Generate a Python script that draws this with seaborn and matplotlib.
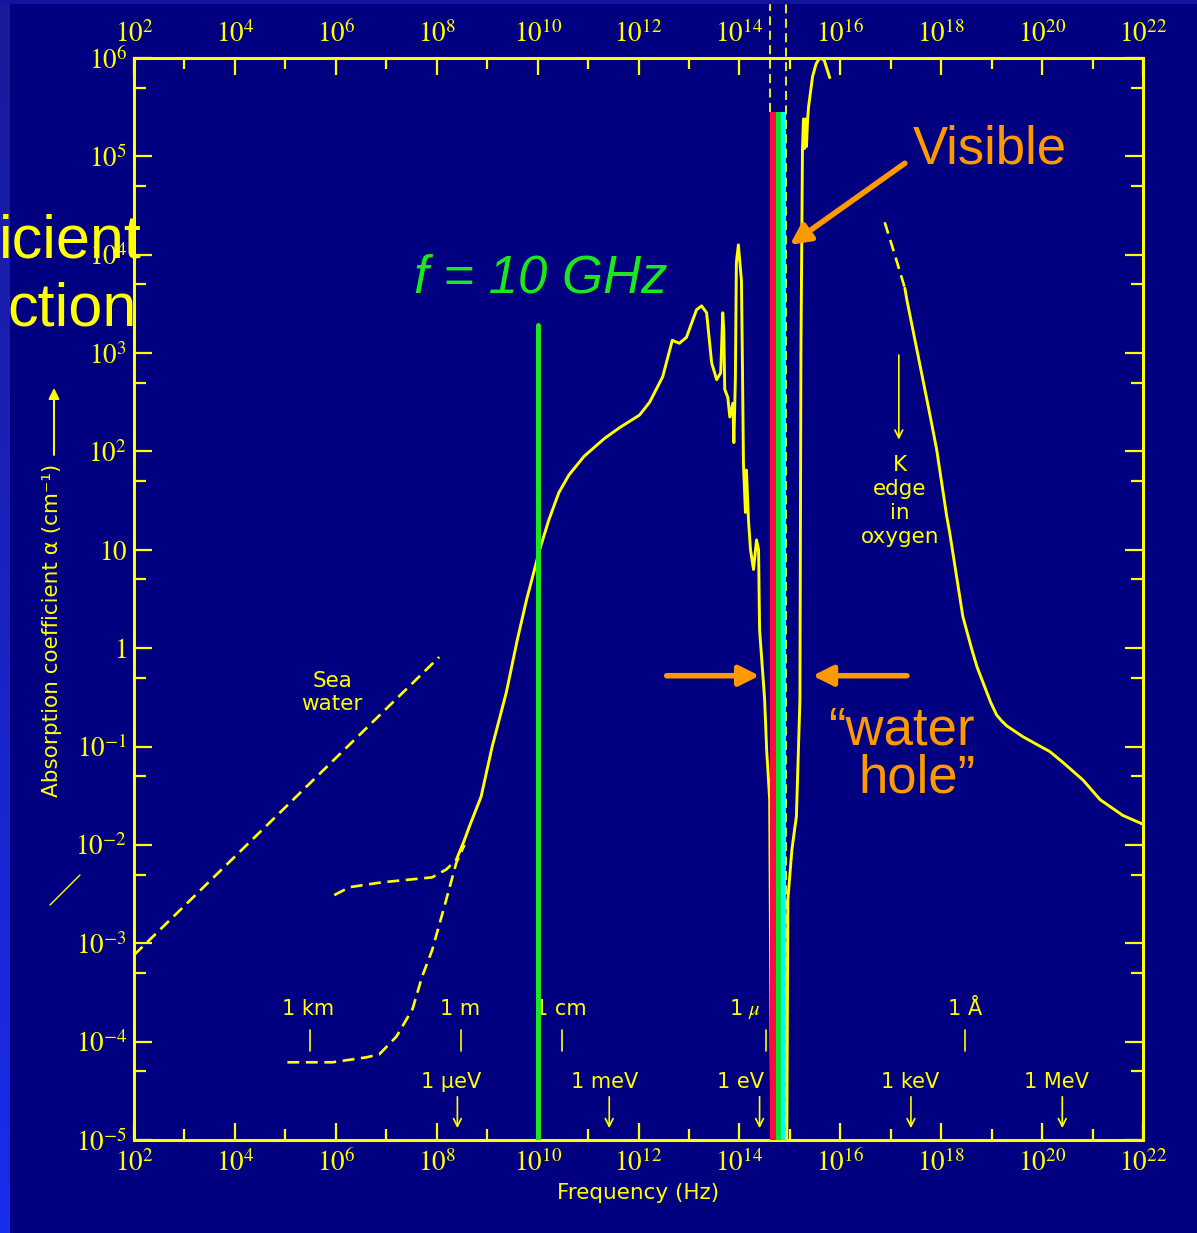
import numpy as np
import pandas as pd
import seaborn as sns
import matplotlib.pyplot as plt
from matplotlib.lines import Line2D
from matplotlib.patches import Rectangle

# ---- data (log10 values) ----
# main water absorption curve, radio -> near IR
main_logf = [8.39, 8.55, 8.65, 8.88, 9.10, 9.38, 9.60, 9.78, 10.04, 10.22, 10.42, 10.62,
             10.92, 11.32, 11.62, 12.02, 12.22, 12.48, 12.67, 12.81, 12.95, 13.15, 13.25,
             13.35, 13.45, 13.55, 13.63, 13.67, 13.69, 13.71, 13.77, 13.81, 13.87, 13.89,
             13.92, 13.94, 13.98, 14.04, 14.06, 14.08, 14.12, 14.14, 14.18, 14.22, 14.28,
             14.34, 14.38, 14.40, 14.50, 14.54, 14.60, 14.64]
main_loga = [-2.15, -1.95, -1.81, -1.51, -1.00, -0.45, 0.09, 0.49, 1.00, 1.30, 1.58, 1.76,
             1.95, 2.13, 2.24, 2.37, 2.50, 2.76, 3.13, 3.10, 3.16, 3.44, 3.48,
             3.41, 2.90, 2.73, 2.80, 3.41, 3.24, 2.63, 2.55, 2.35, 2.49, 2.09,
             2.73, 3.92, 4.10, 3.74, 2.90, 1.88, 1.38, 1.81, 1.30, 1.00, 0.80,
             1.10, 1.00, 0.19, -0.52, -1.03, -1.54, -5.00]

# UV side of the water hole
uv_logf = [14.94, 14.96, 15.04, 15.13, 15.20, 15.22, 15.25, 15.27, 15.29, 15.31, 15.33,
           15.35, 15.37, 15.45, 15.52, 15.59, 15.68, 15.79]
uv_loga = [-5.00, -2.56, -2.05, -1.71, -0.52, 3.03, 5.07, 5.38, 5.08, 5.38, 5.10,
           5.36, 5.50, 5.81, 5.94, 6.00, 5.98, 5.80]

# x-ray side
xr_dash_logf = [16.88, 17.05, 17.28]
xr_dash_loga = [4.33, 4.05, 3.66]
xr_logf = [17.28, 17.32, 17.52, 17.77, 17.91, 18.11, 18.17, 18.43, 18.60, 18.71, 18.83,
           18.98, 19.10, 19.20, 19.30, 19.62, 19.90, 20.15, 20.41, 20.81, 21.15, 21.60, 22.00]
xr_loga = [3.66, 3.54, 3.03, 2.39, 2.02, 1.34, 1.17, 0.32, 0.00, -0.19, -0.35,
           -0.55, -0.68, -0.74, -0.79, -0.90, -0.98, -1.05, -1.16, -1.34, -1.54, -1.70, -1.79]

# sea water line and dashed low-frequency branches
sea_logf = [2.00, 8.05]
sea_loga = [-3.12, -0.09]
low_logf = [5.04, 5.93, 6.60, 6.86, 7.20, 7.52, 7.71, 7.91, 8.15, 8.39, 8.55]
low_loga = [-4.21, -4.21, -4.16, -4.13, -3.95, -3.67, -3.34, -3.07, -2.63, -2.18, -2.00]
mid_logf = [5.97, 6.27, 6.92, 7.91, 8.19, 8.39]
mid_loga = [-2.51, -2.43, -2.38, -2.33, -2.25, -2.15]

# visible band edges
vis_left = [14.60, 14.72, 14.83]
vis_right = [14.72, 14.83, 14.93]
vis_top = 5.45

f_marker = 1e10
f_top = 3.29

wl_labels = ['1 km', '1 m', '1 cm', '1 $\\mu$', '1 Å']
wl_tick_logf = [5.48, 8.48, 10.48, 14.52, 18.48]
wl_text_logf = [5.46, 8.47, 10.47, 14.12, 18.47]
ev_labels = ['1 μeV', '1 meV', '1 eV', '1 keV', '1 MeV']
ev_arrow_logf = [8.41, 11.42, 14.40, 17.40, 20.40]
ev_text_logf = [8.29, 11.32, 14.03, 17.38, 20.29]

xtick_exp = list(range(2, 23, 2))
ytick_exp = list(range(-5, 7))
ytick_labels = ['$10^{-5}$', '$10^{-4}$', '$10^{-3}$', '$10^{-2}$', '$10^{-1}$', '$1$', '$10$',
                '$10^{2}$', '$10^{3}$', '$10^{4}$', '$10^{5}$', '$10^{6}$']

# ---- style ----
navy = '#000080'
yellow = '#ffff00'
orange = '#ff9900'
green = '#1ee61e'
vis_colors = ['#ff0a3c', '#00e632', '#00ffff']

sns.set_theme(style='ticks')
plt.rcParams['font.family'] = ['DejaVu Sans']
plt.rcParams['mathtext.fontset'] = 'stix'

W, H = 1197, 1233
fig = plt.figure(figsize=(W / 100, H / 100), dpi=100)
fig.patch.set_facecolor(navy)

# left gradient strip and thin top strip
strip = fig.add_axes([0, 0, 10 / W, 1])
grad = np.linspace(0, 1, 256).reshape(-1, 1)
cols = np.zeros((256, 1, 3))
cols[:, 0, 0] = 0.10
cols[:, 0, 1] = 0.10 + 0.08 * grad[:, 0]
cols[:, 0, 2] = 0.60 + 0.33 * grad[:, 0]
strip.imshow(cols, aspect='auto', origin='upper')
strip.axis('off')
fig.patches.append(Rectangle((0, 1 - 3 / H), 1, 3 / H, transform=fig.transFigure,
                             color='#14149a', zorder=0))

ax = fig.add_axes([134 / W, 1 - 1140 / H, (1143 - 134) / W, (1140 - 58) / H])
ax.set_facecolor(navy)
ax.set_xscale('log')
ax.set_yscale('log')
ax.set_xlim(1e2, 1e22)
ax.set_ylim(1e-5, 1e6)


def p(v):
    return 10 ** np.array(v)


solid = dict(color=yellow, lw=2.1, sort=False, estimator=None, ax=ax, zorder=3)
dashed = dict(color=yellow, lw=1.9, sort=False, estimator=None, ax=ax, zorder=3,
              linestyle=(0, (4.5, 2.5)))

sns.lineplot(x=p(main_logf), y=p(main_loga), **solid)
sns.lineplot(x=p(uv_logf), y=p(uv_loga), **solid)
sns.lineplot(x=p(xr_logf), y=p(xr_loga), **solid)
sns.lineplot(x=p(xr_dash_logf), y=p(xr_dash_loga), **dashed)
sns.lineplot(x=p(sea_logf), y=p(sea_loga), **dashed)
sns.lineplot(x=p(low_logf), y=p(low_loga), **dashed)
sns.lineplot(x=p(mid_logf), y=p(mid_loga), **dashed)

# visible band
for l, r, c in zip(vis_left, vis_right, vis_colors):
    ax.fill_between([10 ** l, 10 ** r], 1e-5, 10 ** vis_top, color=c, lw=0, zorder=4)
ax.plot([10 ** vis_left[0]] * 2, [10 ** vis_top, 10 ** 6.56], color=yellow, lw=1.3,
        ls=(0, (5, 3)), clip_on=False, zorder=5)
ax.plot([10 ** vis_right[-1]] * 2, [1e-5, 10 ** 6.56], color=yellow, lw=1.3,
        ls=(0, (5, 3)), clip_on=False, zorder=5)

# wavelength / energy markers
for lab, tf, xf in zip(wl_labels, wl_tick_logf, wl_text_logf):
    ax.text(10 ** xf, 10 ** -3.67, lab, color=yellow, fontsize=15, ha='center', va='center',
            zorder=3)
    ax.plot([10 ** tf] * 2, [10 ** -3.88, 10 ** -4.10], color=yellow, lw=1.2, zorder=3)
for lab, af, xf in zip(ev_labels, ev_arrow_logf, ev_text_logf):
    ax.text(10 ** xf, 10 ** -4.41, lab, color=yellow, fontsize=15, ha='center', va='center',
            zorder=3)
    ax.annotate('', xy=(10 ** af, 10 ** -4.88), xytext=(10 ** af, 10 ** -4.56),
                arrowprops=dict(arrowstyle='->', color=yellow, lw=1.2, shrinkA=0, shrinkB=0,
                                mutation_scale=14), zorder=3)

# 10 GHz line
ax.plot([f_marker, f_marker], [1e-5, 10 ** f_top], color=green, lw=3.6, zorder=6)
ax.text(10 ** 10.06, 10 ** 3.76, 'f = 10 GHz', color=green, fontsize=38, style='italic',
        family='Liberation Sans', ha='center', va='center', zorder=6)

# labels inside the plot
ax.text(10 ** 5.93, 10 ** -0.45, 'Sea\nwater', color=yellow, fontsize=15.5, ha='center',
        va='center', linespacing=1.2)
ax.text(10 ** 17.18, 10 ** 1.50, 'K\nedge\nin\noxygen', color=yellow, fontsize=15.5,
        ha='center', va='center', linespacing=1.25)
ax.annotate('', xy=(10 ** 17.16, 10 ** 2.12), xytext=(10 ** 17.16, 10 ** 2.98),
            arrowprops=dict(arrowstyle='->', color=yellow, lw=1.2, shrinkA=0, shrinkB=0,
                            mutation_scale=14))

ax.text(10 ** 18.96, 10 ** 5.07, 'Visible', color=orange, fontsize=38,
        family='Liberation Sans', ha='center', va='center', zorder=7)
ax.annotate('', xy=(10 ** 15.0, 10 ** 4.10), xytext=(10 ** 17.28, 10 ** 4.93),
            arrowprops=dict(arrowstyle='-|>', color=orange, lw=4, shrinkA=0, shrinkB=0,
                            mutation_scale=30), zorder=7)
ax.text(10 ** 18.67, 10 ** -1.08, '\u201cwater\nhole\u201d', color=orange, fontsize=38,
        family='Liberation Sans', ha='right', va='center', multialignment='right',
        linespacing=0.95, zorder=7)
ax.annotate('', xy=(10 ** 14.40, 10 ** -0.28), xytext=(10 ** 12.56, 10 ** -0.28),
            arrowprops=dict(arrowstyle='-|>', color=orange, lw=4, shrinkA=0, shrinkB=0,
                            mutation_scale=30), zorder=7)
ax.annotate('', xy=(10 ** 15.45, 10 ** -0.28), xytext=(10 ** 17.32, 10 ** -0.28),
            arrowprops=dict(arrowstyle='-|>', color=orange, lw=4, shrinkA=0, shrinkB=0,
                            mutation_scale=30), zorder=7)

# ticks and spines
ax.set_xticks([10.0 ** e for e in xtick_exp])
ax.set_xticklabels(['$10^{%d}$' % e for e in xtick_exp])
ax.set_xticks([10.0 ** (e + 1) for e in xtick_exp[:-1]], minor=True)
ax.set_xticklabels([], minor=True)
ax.set_yticks([10.0 ** e for e in ytick_exp])
ax.set_yticklabels(ytick_labels)
ax.set_yticks([5 * 10.0 ** (e - 1) for e in ytick_exp[1:]], minor=True)
ax.set_yticklabels([], minor=True)

ax.tick_params(axis='both', which='both', direction='in', colors=yellow, top=True,
               right=True, labeltop=True, labelsize=19.5, width=1.6)
ax.tick_params(axis='x', which='major', length=12.5, pad=7)
ax.tick_params(axis='x', which='minor', length=8)
ax.tick_params(axis='y', which='major', length=13, pad=5)
ax.tick_params(axis='y', which='minor', length=8.5)
for s in ax.spines.values():
    s.set_color(yellow)
    s.set_linewidth(2.2)
    s.set_visible(True)

ax.set_xlabel('Frequency (Hz)', color=yellow, fontsize=15.5, labelpad=4)

# axis title on the left, with its arrow
fig.text(52 / W, 1 - 630 / H, 'Absorption coefficient α (cm⁻¹)', color=yellow, fontsize=15.5,
         rotation=90, ha='center', va='center')
fig.add_artist(Line2D([54 / W, 54 / W], [1 - 455 / H, 1 - 400 / H], color=yellow, lw=1.4))
ax.annotate('', xy=(54 / W, 1 - 388 / H), xytext=(54 / W, 1 - 410 / H),
            xycoords='figure fraction', textcoords='figure fraction',
            arrowprops=dict(arrowstyle='-|>', color=yellow, lw=1.4, shrinkA=0, shrinkB=0,
                            mutation_scale=16))
fig.add_artist(Line2D([50 / W, 80 / W], [1 - 905 / H, 1 - 875 / H], color=yellow, lw=1.0))

# clipped slide title fragments
fig.text(142 / W, 1 - 258 / H, 'icient', color=yellow, fontsize=44,
         family='Liberation Sans', ha='right', va='baseline', zorder=10)
fig.text(137 / W, 1 - 326 / H, 'ction', color=yellow, fontsize=44,
         family='Liberation Sans', ha='right', va='baseline', zorder=10)

fig.savefig('out.png', dpi=100, facecolor=navy)
